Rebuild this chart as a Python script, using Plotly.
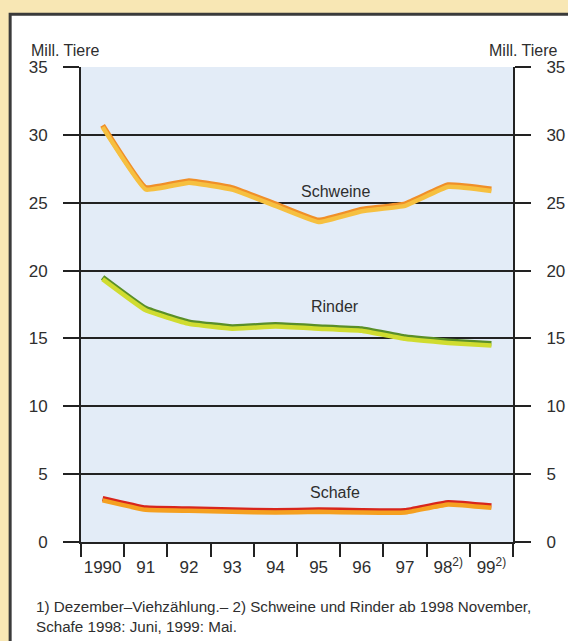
import plotly.graph_objects as go

years = ["1990", "91", "92", "93", "94", "95", "96", "97", "98<sup>2)</sup>", "99<sup>2)</sup>"]
schweine = [30.7, 26.1, 26.6, 26.1, 24.9, 23.7, 24.5, 24.9, 26.3, 26.0]
rinder = [19.5, 17.2, 16.2, 15.85, 16.0, 15.85, 15.7, 15.1, 14.8, 14.6]
schafe = [3.2, 2.5, 2.43, 2.36, 2.3, 2.36, 2.3, 2.3, 2.9, 2.65]
y_ticks = [0, 5, 10, 15, 20, 25, 30, 35]

series = [
    ("Schweine", schweine, "#f08f28", "#f6c040", 5.38, 25.85),
    ("Rinder", rinder, "#5a8f28", "#d0dc30", 5.38, 17.35),
    ("Schafe", schafe, "#d8261c", "#f5a020", 5.38, 3.65),
]

FONT = "Liberation Sans, Arial, sans-serif"
DARK = "#222222"
TXT = "#2e2e2e"

fig = go.Figure()
for name, vals, col, under, lx, ly in series:
    fig.add_trace(go.Scatter(x=years, y=vals, mode="lines", yaxis="y3",
                             line=dict(color=under, width=4.5, shape="spline", smoothing=0.3),
                             hoverinfo="skip", showlegend=False))
for name, vals, col, under, lx, ly in series:
    fig.add_trace(go.Scatter(x=years, y=vals, mode="lines", name=name,
                             line=dict(color=col, width=5.5, shape="spline", smoothing=0.3),
                             showlegend=False))
    fig.add_annotation(x=lx, y=ly, xref="x", yref="y", text=name, showarrow=False,
                       font=dict(family=FONT, size=16, color=TXT))

fig.add_annotation(x=-0.12, y=1.035, xref="paper", yref="paper", text="Mill. Tiere",
                   showarrow=False, xanchor="left", yanchor="middle",
                   font=dict(family=FONT, size=16, color=TXT))
fig.add_annotation(x=1.109, y=1.035, xref="paper", yref="paper", text="Mill. Tiere",
                   showarrow=False, xanchor="right", yanchor="middle",
                   font=dict(family=FONT, size=16, color=TXT))
fig.add_annotation(x=-0.108, y=-0.113, xref="paper", yref="paper",
                   text="1) Dezember–Viehzählung.– 2) Schweine und Rinder ab 1998 November,<br>Schafe 1998: Juni, 1999: Mai.",
                   showarrow=False, xanchor="left", yanchor="top", align="left",
                   font=dict(family=FONT, size=15.2, color=TXT))

# white framed panel and light-blue plot area
fig.add_shape(type="rect", xref="paper", yref="paper", x0=-0.164, x1=1.4, y0=-0.4, y1=1.111,
              fillcolor="white", line=dict(color="#3a3a3a", width=3), layer="below")
fig.add_shape(type="rect", xref="paper", yref="paper", x0=0, x1=1, y0=0, y1=1,
              fillcolor="#e3ecf7", line=dict(width=0), layer="below")

axis_font = dict(family=FONT, size=17, color=TXT)
fig.update_layout(
    width=568, height=641,
    margin=dict(l=81, r=55, t=67, b=99),
    paper_bgcolor="#f8e7b4",
    plot_bgcolor="rgba(0,0,0,0)",
    showlegend=False,
    xaxis=dict(type="category", categoryorder="array", categoryarray=years,
               tickson="boundaries", ticks="outside", ticklen=13, tickwidth=2, tickcolor=DARK,
               showgrid=False, showline=True, linecolor=DARK, linewidth=2, tickangle=0,
               automargin=False,
               tickfont=axis_font, ticklabelstandoff=9, range=[-0.5, 9.5]),
    yaxis=dict(range=[0, 35], tickvals=y_ticks, ticks="outside", ticklen=16, tickwidth=1.6,
               tickcolor=DARK, showgrid=True, gridcolor=DARK, gridwidth=1.6,
               showline=True, linecolor=DARK, linewidth=2, zeroline=False, automargin=False,
               tickfont=axis_font, ticklabelstandoff=12),
    yaxis2=dict(range=[0, 35], tickvals=y_ticks, overlaying="y", side="right",
                ticks="outside", ticklen=16, tickwidth=1.6, tickcolor=DARK,
                showgrid=False, showline=True, linecolor=DARK, linewidth=2, zeroline=False,
                automargin=False,
                tickfont=axis_font, ticklabelstandoff=12),
    yaxis3=dict(range=[0.13, 35.13], overlaying="y", visible=False),
)
fig.add_trace(go.Scatter(x=[years[0]], y=[None], yaxis="y2", showlegend=False, hoverinfo="skip"))

fig.write_html("out.html", config={"displayModeBar": False},
               post_script="document.body.style.margin='0px';")
